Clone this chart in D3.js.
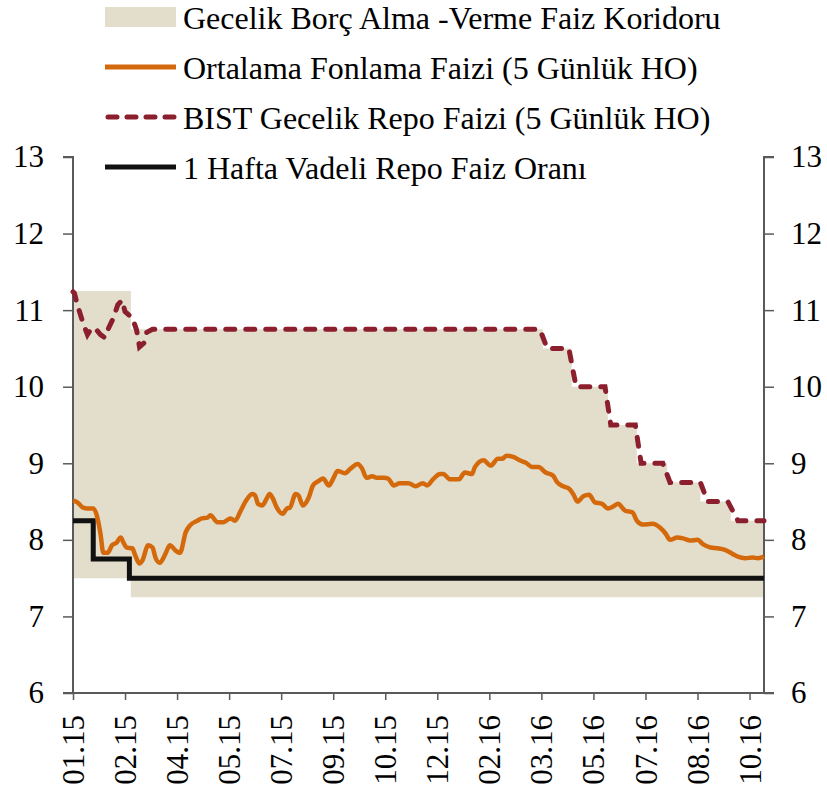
<!DOCTYPE html>
<html>
<head>
<meta charset="utf-8">
<script src="https://cdn.jsdelivr.net/npm/d3@7"></script>
<style>
  body { margin: 0; background: #fff; }
</style>
</head>
<body>
<svg id="chart" width="827" height="793" font-family="'Liberation Serif', 'DejaVu Serif', serif"></svg>
<script>
// business-day index since 01.15; one tick every 36 days
const lastDay = 478;
const tickDays = [0, 36, 72, 108, 144, 180, 216, 252, 288, 324, 360, 396, 432, 468];
const tickLabels = ['01.15', '02.15', '04.15', '05.15', '07.15', '09.15', '10.15',
    '12.15', '02.16', '03.16', '05.16', '07.16', '08.16', '10.16'];
const yTicks = [6, 7, 8, 9, 10, 11, 12, 13];

// corridor (step after)
const corrDays = [0, 40, 325, 345, 370, 390, 411, 434, 455, 478];
const corrUpper = [11.25, 10.75, 10.5, 10, 9.5, 9, 8.75, 8.5, 8.25, 8.25];
const corrLower = [7.5, 7.25, 7.25, 7.25, 7.25, 7.25, 7.25, 7.25, 7.25, 7.25];

// 1 week repo (step after)
const repoDays = [0, 14, 39, 478];
const repoVals = [8.25, 7.75, 7.5, 7.5];

// BIST overnight repo, 5 day MA
const bistDays = [0, 1, 3, 7, 10, 12, 15, 19, 22, 24, 28, 31, 34, 36, 41, 44, 46, 49, 51, 55,
    323, 328, 343, 348, 368, 372, 389, 393, 408, 413, 434, 439, 453, 460, 478];
const bistVals = [11.24, 11.22, 11.07, 10.83, 10.68, 10.74, 10.77, 10.68, 10.64, 10.74, 10.9, 11.07,
    11.13, 10.98, 10.9, 10.74, 10.52, 10.57, 10.71, 10.75,
    10.75, 10.5, 10.5, 10, 10, 9.5, 9.5, 9, 9, 8.75, 8.75, 8.5, 8.5, 8.25, 8.25];

// average funding rate, 5 day MA
const fundDays = [0, 3, 7, 10, 14, 17, 19, 21, 24, 27, 30, 33, 35, 37, 41, 43, 46, 48, 52, 55,
    57, 60, 64, 67, 71, 74, 78, 81, 86, 89, 93, 95, 100, 104, 109, 112, 116, 119, 124, 126,
    128, 131, 134, 136, 138, 141, 145, 148, 150, 154, 156, 159, 163, 166, 170, 173, 177, 180, 183, 188,
    192, 197, 200, 203, 207, 210, 215, 218, 222, 226, 232, 237, 242, 245, 249, 254, 256, 261, 267, 271,
    276, 278, 284, 289, 294, 297, 300, 305, 309, 313, 318, 322, 327, 332, 335, 339, 343, 346, 349, 353,
    357, 361, 366, 370, 374, 377, 382, 387, 390, 394, 401, 406, 410, 413, 418, 422, 427, 432, 436, 441,
    446, 451, 456, 460, 465, 470, 474, 478];
const fundVals = [8.51, 8.49, 8.42, 8.41, 8.41, 8.28, 8.08, 7.83, 7.83, 7.93, 7.96, 8.03, 7.96, 7.9, 7.89, 7.8, 7.69, 7.73, 7.93, 7.9,
    7.77, 7.7, 7.82, 7.93, 7.86, 7.83, 8.1, 8.19, 8.25, 8.28, 8.29, 8.32, 8.23, 8.23, 8.28, 8.25, 8.38, 8.49, 8.6, 8.58,
    8.47, 8.45, 8.54, 8.6, 8.55, 8.42, 8.34, 8.41, 8.42, 8.6, 8.58, 8.45, 8.55, 8.71, 8.77, 8.8, 8.71, 8.8, 8.9, 8.87,
    8.93, 8.99, 8.93, 8.81, 8.83, 8.81, 8.81, 8.8, 8.71, 8.74, 8.74, 8.7, 8.74, 8.71, 8.79, 8.86, 8.86, 8.79, 8.79, 8.88,
    8.86, 8.95, 9.04, 8.97, 9.06, 9.06, 9.1, 9.08, 9.04, 9.01, 8.95, 8.95, 8.88, 8.84, 8.75, 8.7, 8.67, 8.6, 8.5, 8.57,
    8.59, 8.49, 8.47, 8.41, 8.44, 8.47, 8.38, 8.36, 8.25, 8.2, 8.21, 8.16, 8.08, 8.0, 8.03, 8.02, 7.99, 8.0, 7.94, 7.9,
    7.89, 7.87, 7.82, 7.78, 7.76, 7.77, 7.76, 7.78];

const colors = { corridor: '#E2DECB', fund: '#D4690C', bist: '#8B1F2E', repo: '#111111', axis: '#5a5a5a' };
const serif = "'Liberation Serif', 'DejaVu Serif', serif";

const svg = d3.select('#chart');
const x = d3.scaleLinear().domain([0, lastDay]).range([73, 764]);
const y = d3.scaleLinear().domain([6, 13]).range([693, 157]);

const zip = (days, vals) => days.map((d, i) => ({ d: d, v: vals[i] }));

// corridor band
const corridor = corrDays.map((d, i) => ({ d: d, hi: corrUpper[i], lo: corrLower[i] }));
svg.append('path')
    .datum(corridor)
    .attr('fill', colors.corridor)
    .attr('d', d3.area().curve(d3.curveStepAfter)
        .x(d => x(d.d)).y0(d => y(d.lo)).y1(d => y(d.hi)));

// axes
const left = svg.append('g').attr('transform', `translate(${x(0)},0)`)
    .call(d3.axisLeft(y).tickValues(yTicks).tickFormat(d3.format('d')).tickSize(10).tickPadding(19));
const right = svg.append('g').attr('transform', `translate(${x(lastDay)},0)`)
    .call(d3.axisRight(y).tickValues(yTicks).tickFormat(d3.format('d')).tickSize(10).tickPadding(17));
const bottom = svg.append('g').attr('transform', `translate(0,${y(6)})`)
    .call(d3.axisBottom(x).tickValues(tickDays).tickFormat((d, i) => tickLabels[i]).tickSize(7));

[left, right, bottom].forEach(g => {
    g.attr('font-family', serif).attr('font-size', 31);
    g.select('.domain').attr('stroke', colors.axis).attr('stroke-width', 2);
    g.selectAll('.tick line').attr('stroke', colors.axis).attr('stroke-width', 1.5);
    g.selectAll('text').attr('fill', '#000');
});
left.select('.domain').attr('d', `M-10,${y(13)}H0V${y(6)}H-10`);
right.select('.domain').attr('d', `M10,${y(13)}H0V${y(6)}H10`);
bottom.select('.domain').attr('d', `M${x(0)},0H${x(lastDay)}`);
bottom.selectAll('text')
    .attr('y', 0).attr('dy', '0.34em')
    .attr('text-anchor', 'end')
    .attr('transform', 'translate(0,22) rotate(-90)');

// lines
svg.append('path')
    .datum(zip(repoDays, repoVals))
    .attr('fill', 'none').attr('stroke', colors.repo).attr('stroke-width', 5)
    .attr('d', d3.line().curve(d3.curveStepAfter).x(d => x(d.d)).y(d => y(d.v)));

svg.append('path')
    .datum(zip(bistDays, bistVals))
    .attr('fill', 'none').attr('stroke', colors.bist).attr('stroke-width', 5)
    .attr('stroke-dasharray', '9,11').attr('stroke-linecap', 'round')
    .attr('d', d3.line().x(d => x(d.d)).y(d => y(d.v)));

svg.append('path')
    .datum(zip(fundDays, fundVals))
    .attr('fill', 'none').attr('stroke', colors.fund).attr('stroke-width', 4.5)
    .attr('stroke-linejoin', 'round')
    .attr('d', d3.line().curve(d3.curveMonotoneX).x(d => x(d.d)).y(d => y(d.v)));

// legend
const legendItems = [
    { label: 'Gecelik Borç Alma -Verme Faiz Koridoru', type: 'box', color: colors.corridor },
    { label: 'Ortalama Fonlama Faizi (5 Günlük HO)', type: 'line', color: colors.fund },
    { label: 'BIST Gecelik Repo Faizi (5 Günlük HO)', type: 'dash', color: colors.bist },
    { label: '1 Hafta Vadeli Repo Faiz Oranı', type: 'line', color: colors.repo }
];
const legend = svg.append('g').attr('class', 'legend');
legendItems.forEach((item, i) => {
    const g = legend.append('g').attr('transform', `translate(105,${17 + i * 50})`);
    if (item.type === 'box') {
        g.append('rect').attr('x', 0).attr('y', -10).attr('width', 71).attr('height', 20).attr('fill', item.color);
    } else {
        g.append('line').attr('x1', item.type === 'dash' ? 3 : 0).attr('x2', 71).attr('y1', 0).attr('y2', 0)
            .attr('stroke', item.color).attr('stroke-width', 5)
            .attr('stroke-linecap', item.type === 'dash' ? 'round' : 'butt')
            .attr('stroke-dasharray', item.type === 'dash' ? '9,10' : null);
    }
    g.append('text').attr('x', 78).attr('y', 12)
        .attr('font-family', serif).attr('font-size', 32).attr('fill', '#000')
        .text(item.label);
});
</script>
</body>
</html>
